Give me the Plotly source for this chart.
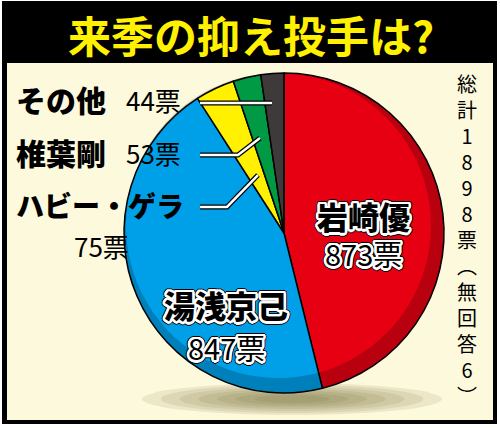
import numpy as np
import plotly.graph_objects as go

W, H = 500, 428
FONT = "Noto Sans CJK JP"

title = "来季の抑え投手は?"
names = ["岩崎優", "湯浅京己", "ハビー・ゲラ", "椎葉剛", "その他"]
votes = [873, 847, 75, 53, 44]
no_answer = 6
colors = ["#e60012", "#00a0e9", "#fff100", "#009944", "#3e3a39"]

BLACK = "#000000"
CREAM = "#fdf9dc"
YELLOW = "#fff100"


def px(x):
    return x / W


def py(y):
    return 1 - y / H


def ring(cx, cy, r, n=90):
    t = np.linspace(0, 2 * np.pi, n)
    pts = [(px(cx + r * np.cos(a)), py(cy + r * np.sin(a))) for a in t]
    return "M" + " L".join(f"{x:.4f},{y:.4f}" for x, y in pts) + " Z"


def outline(w=2.5, edge="#000"):
    parts = []
    for a in np.linspace(0, 2 * np.pi, 16, endpoint=False):
        parts.append(f"{w * np.cos(a):.1f}px {w * np.sin(a):.1f}px 0 #fff")
    for a in np.linspace(0, 2 * np.pi, 12, endpoint=False):
        parts.append(f"{(w + 1) * np.cos(a):.1f}px {(w + 1) * np.sin(a):.1f}px 0.5px {edge}")
    return ", ".join(parts)


def label(text, x, y, size, weight=400, anchor="center", shadow=None):
    f = dict(family=FONT, size=size, color=BLACK, weight=weight)
    if shadow:
        f["shadow"] = shadow
    return dict(text=text, x=px(x), y=py(y), xanchor=anchor, yanchor="middle",
                showarrow=False, font=f)


# pie geometry (pixels)
cx, cy, R = 284, 233, 160

fig = go.Figure(go.Pie(
    values=votes, labels=names, sort=False, direction="clockwise",
    marker=dict(colors=colors, line=dict(color=BLACK, width=1.5)),
    textinfo="none", hoverinfo="label+value",
    domain=dict(x=[px(cx - R), px(cx + R)], y=[py(cy + R), py(cy - R)]),
))

shapes = [
    dict(type="rect", xref="paper", yref="paper", x0=px(2), x1=px(497), y0=py(424), y1=py(1),
         fillcolor=BLACK, line_width=0, layer="below"),
    dict(type="rect", xref="paper", yref="paper", x0=px(7), x1=px(493), y0=py(420), y1=py(63),
         fillcolor=CREAM, line_width=0, layer="below"),
]
# soft shadow under the pie
for k in range(7):
    f = 1 - k / 8
    shapes.append(dict(type="circle", xref="paper", yref="paper",
                       x0=px(292 - 150 * f), x1=px(292 + 150 * f),
                       y0=py(399 + 16 * f), y1=py(399 - 16 * f),
                       fillcolor="rgba(100,95,40,0.11)", line_width=0, layer="below"))
# darker rim (lower right) of the pie
shapes.append(dict(type="path", xref="paper", yref="paper",
                   path=ring(cx, cy, R) + " " + ring(cx - 5.5, cy - 7.5, R - 7.5),
                   fillrule="evenodd", fillcolor="rgba(0,0,0,0.2)", line_width=0, layer="above"))

# leader lines for the small slices
leaders = [
    [(200, 103), (272, 103)],
    [(200, 155), (238, 155), (260, 138)],
    [(200, 207), (227, 207), (258, 175)],
]
for pts in leaders:
    path = "M" + " L".join(f"{px(x):.4f},{py(y):.4f}" for x, y in pts)
    shapes.append(dict(type="path", xref="paper", yref="paper", path=path,
                       line=dict(color=BLACK, width=5), layer="above"))
    shapes.append(dict(type="path", xref="paper", yref="paper", path=path,
                       line=dict(color="#ffffff", width=2.5), layer="above"))

annotations = [
    dict(text=f"<b>{title}</b>", x=px(251), y=py(34), xanchor="center", yanchor="middle",
         showarrow=False, font=dict(family=FONT, size=43, color=YELLOW)),
]

OUT = outline()
inside = [(0, 363, 216, 253), (1, 226, 304, 347)]
for i, x, y1, y2 in inside:
    annotations.append(label(names[i], x, y1, 31, weight=900, shadow=OUT))
    annotations.append(label(f"{votes[i]}票", x, y2, 29, shadow=OUT))

outside = [(4, 99, 30, 124, 99, "left"), (3, 152, 30, 124, 152, "left"),
           (2, 205, 28, 101, 245, "center")]
for i, yn, size, xv, yv, anc in outside:
    annotations.append(label(names[i], 14, yn, size, weight=900, anchor="left"))
    annotations.append(label(f"{votes[i]}票", xv, yv, 26, anchor=anc))

# vertical total note, one character per line
total = sum(votes) + no_answer
note = f"総計{total}票（無回答{no_answer}）".replace("（", "︵").replace("）", "︶")
annotations.append(label("<br>".join(note), 467, 240, 20))

fig.update_layout(
    width=W, height=H,
    margin=dict(t=0, b=0, l=0, r=0),
    paper_bgcolor="#ffffff",
    showlegend=False,
    shapes=shapes,
    annotations=annotations,
    font=dict(family=FONT),
)

fig.write_html("out.html", config={"displayModeBar": False},
               post_script="document.body.style.margin='0';")
